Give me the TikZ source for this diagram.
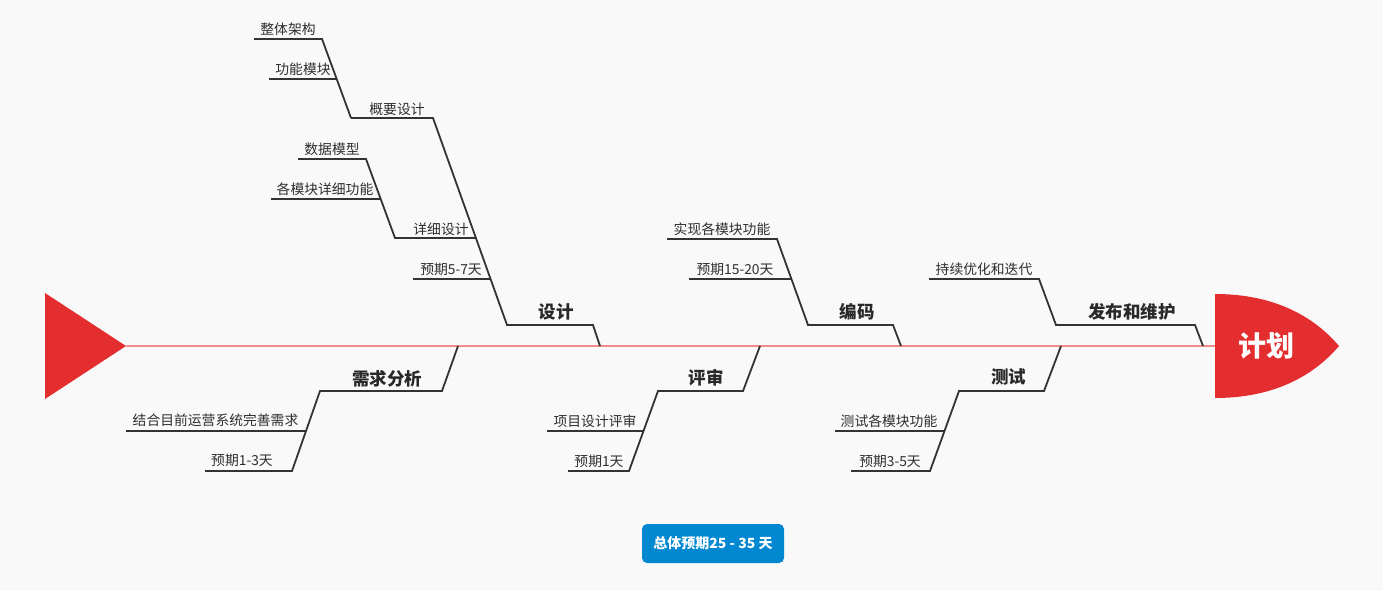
\documentclass[tikz,border=0pt]{standalone}
\usepackage{fontspec}
\setmainfont{Noto Sans CJK SC}
\usepackage{tikz}
\usetikzlibrary{calc}

\definecolor{fishred}{HTML}{E32D2F}
\definecolor{spinered}{HTML}{EF8B8B}
\definecolor{bonegray}{HTML}{333333}
\definecolor{paper}{HTML}{F9F9F9}
\definecolor{totalblue}{HTML}{0288D1}

\tikzset{
  bone/.style={draw=bonegray, line width=1.8pt, line join=miter},
  leaf/.style={inner sep=0pt, text=bonegray!90!black, font=\fontsize{13.8}{15}\selectfont},
  cat/.style={inner sep=0pt, text=bonegray!80!black, font=\fontsize{17.5}{19}\selectfont\bfseries},
}

\begin{document}
\begin{tikzpicture}[x=1pt,y=-1pt]
      \fill [paper] (0,0) rectangle (1383,591);
      \useasboundingbox (0,0) rectangle (1383,591);

      % spine, tail and head
      \coordinate (tailtip) at (126,346);
      \coordinate (headleft) at (1215,346);
      \draw [spinered, line width=1.8pt] (tailtip) -- (headleft);
      \fill [fishred] (45,293) -- (tailtip) -- (45,399) -- cycle;
      \fill [fishred] (1215,294) .. controls (1268,294) and (1310,312) .. (1339,346)
                      .. controls (1310,380) and (1268,398) .. (1215,398) -- cycle;
      \node [text=white, inner sep=0pt, font=\fontsize{28}{30}\selectfont\bfseries] (plan) at (1266,346) {计划};

      % 设计
      \coordinate (sj0) at (600,346);
      \coordinate (sj1) at (593,325);
      \coordinate (sj2) at (507,325);
      \coordinate (sj3) at (433,118);
      \coordinate (sj4) at (351,118);
      \draw [bone] (sj0) -- (sj1) -- (sj2) -- (sj3) -- (sj4);
      \node [cat] (design) at (556,312) {设计};
      \node [leaf] (outline) at (397,109) {概要设计};
      \coordinate (gy1) at (322,39);
      \coordinate (gy2) at (254,39);
      \draw [bone] (sj4) -- (gy1) -- (gy2);
      \node [leaf] (arch) at (288,29) {整体架构};
      \coordinate (gm1) at (337,79);
      \coordinate (gm2) at (269,79);
      \draw [bone] (gm1) -- (gm2);
      \node [leaf] (modules) at (303,69) {功能模块};
      \coordinate (xx0) at (476,238);
      \coordinate (xx1) at (395,238);
      \coordinate (xx2) at (366,159);
      \coordinate (xx3) at (298,159);
      \draw [bone] (xx0) -- (xx1) -- (xx2) -- (xx3);
      \node [leaf] (detail) at (441,229) {详细设计};
      \node [leaf] (datamodel) at (332,149) {数据模型};
      \coordinate (xm1) at (380,199);
      \coordinate (xm2) at (271,199);
      \draw [bone] (xm1) -- (xm2);
      \node [leaf] (funcs) at (325,189) {各模块详细功能};
      \coordinate (sd1) at (490,279);
      \coordinate (sd2) at (413,279);
      \draw [bone] (sd1) -- (sd2);
      \node [leaf] (sjdays) at (451,269) {预期5-7天};

      % 编码
      \coordinate (bm0) at (901,346);
      \coordinate (bm1) at (893,325);
      \coordinate (bm2) at (808,325);
      \coordinate (bm3) at (777,239);
      \coordinate (bm4) at (667,239);
      \draw [bone] (bm0) -- (bm1) -- (bm2) -- (bm3) -- (bm4);
      \node [cat] (coding) at (857,312) {编码};
      \node [leaf] (implement) at (722,229) {实现各模块功能};
      \coordinate (bd1) at (791,279);
      \coordinate (bd2) at (689,279);
      \draw [bone] (bd1) -- (bd2);
      \node [leaf] (bmdays) at (735,269) {预期15-20天};

      % 发布和维护
      \coordinate (fb0) at (1203,346);
      \coordinate (fb1) at (1195,325);
      \coordinate (fb2) at (1056,325);
      \coordinate (fb3) at (1039,279);
      \coordinate (fb4) at (929,279);
      \draw [bone] (fb0) -- (fb1) -- (fb2) -- (fb3) -- (fb4);
      \node [cat] (release) at (1132,312) {发布和维护};
      \node [leaf] (iterate) at (984,269) {持续优化和迭代};

      % 需求分析
      \coordinate (xq0) at (458,346);
      \coordinate (xq1) at (442,391);
      \coordinate (xq2) at (320,391);
      \coordinate (xq3) at (292,471);
      \coordinate (xq4) at (205,471);
      \draw [bone] (xq0) -- (xq1) -- (xq2) -- (xq3) -- (xq4);
      \node [cat] (require) at (387,379) {需求分析};
      \coordinate (xm3) at (306,431);
      \coordinate (xm4) at (126,431);
      \draw [bone] (xm3) -- (xm4);
      \node [leaf] (perfect) at (215.5,420) {结合目前运营系统完善需求};
      \node [leaf] (xqdays) at (242,460) {预期1-3天};

      % 评审
      \coordinate (ps0) at (760,346);
      \coordinate (ps1) at (743,391);
      \coordinate (ps2) at (658,391);
      \coordinate (ps3) at (629,471);
      \coordinate (ps4) at (568,471);
      \draw [bone] (ps0) -- (ps1) -- (ps2) -- (ps3) -- (ps4);
      \node [cat] (review) at (706,378) {评审};
      \coordinate (pm1) at (644,431);
      \coordinate (pm2) at (547,431);
      \draw [bone] (pm1) -- (pm2);
      \node [leaf] (designreview) at (595,421) {项目设计评审};
      \node [leaf] (psdays) at (599,461) {预期1天};

      % 测试
      \coordinate (cs0) at (1061,346);
      \coordinate (cs1) at (1044,391);
      \coordinate (cs2) at (959,391);
      \coordinate (cs3) at (930,471);
      \coordinate (cs4) at (851,471);
      \draw [bone] (cs0) -- (cs1) -- (cs2) -- (cs3) -- (cs4);
      \node [cat] (testing) at (1008.5,377) {测试};
      \coordinate (cm1) at (944,431);
      \coordinate (cm2) at (835,431);
      \draw [bone] (cm1) -- (cm2);
      \node [leaf] (testfuncs) at (889,421) {测试各模块功能};
      \node [leaf] (csdays) at (890,461) {预期3-5天};

      % total
      \node [fill=totalblue, rounded corners=5pt, minimum width=142pt, minimum height=39pt,
             text=white, inner sep=0pt, font=\fontsize{14}{16}\selectfont\bfseries] (total) at (713,543.5) {总体预期25 - 35 天};
    \end{tikzpicture}
\end{document}
